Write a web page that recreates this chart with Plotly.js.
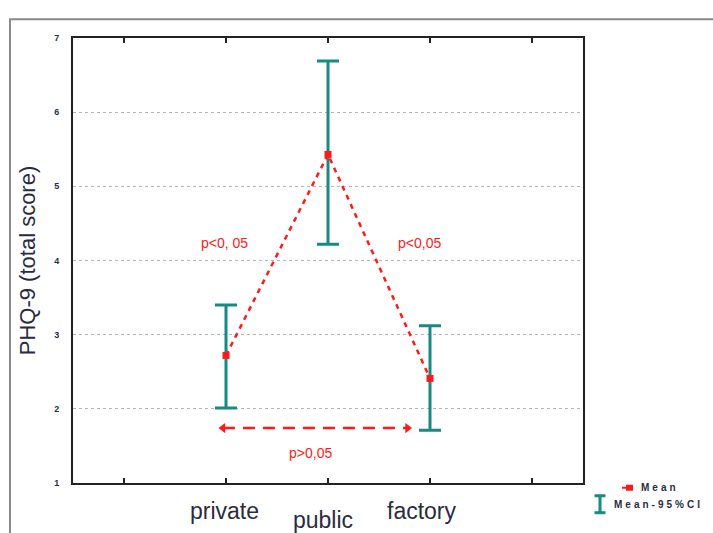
<!DOCTYPE html>
<html>
<head>
<meta charset="utf-8">
<script src="https://cdn.plot.ly/plotly-3.0.1.min.js"></script>
<style>
  html, body { margin: 0; padding: 0; background: #fff; }
  #chart { width: 713px; height: 533px; }
  .legtext { letter-spacing: 3px; }
</style>
</head>
<body>
<div id="chart"></div>
<script>
// ---- data ----
const categories = ["private", "public", "factory"];
const catPos = [1, 2, 3];
const meanValues = [2.72, 5.43, 2.41];
const ciUpper = [3.40, 6.69, 3.12];
const ciLower = [2.01, 4.22, 1.71];
const yTicks = [1, 2, 3, 4, 5, 6, 7];
// p-value comparisons
const pLabels = ["p<0, 05", "p<0,05", "p>0,05"];
const pLabelX = [0.99, 2.9, 1.83];
const pLabelY = [4.23, 4.23, 1.40];
const arrowX = [0.97, 2.78];
const arrowY = [1.74, 1.74];
const legendLabels = ["Mean", "Mean-95%CI"];

const red = "#ff1a1a";
const teal = "#178a84";

const traceCI = {
  x: catPos, y: meanValues, type: "scatter", mode: "markers",
  marker: { color: "rgba(0,0,0,0)", size: 1 },
  error_y: {
    type: "data", symmetric: false,
    array: ciUpper.map((u, i) => u - meanValues[i]),
    arrayminus: meanValues.map((m, i) => m - ciLower[i]),
    color: teal, thickness: 3, width: 11
  },
  hoverinfo: "skip", showlegend: false
};

const traceMean = {
  x: catPos, y: meanValues, type: "scatter", mode: "lines+markers",
  line: { color: red, width: 2.5, dash: "5px,5px" },
  marker: { color: red, size: 7, symbol: "square" },
  showlegend: false
};

const traceArrow = {
  x: arrowX, y: arrowY, type: "scatter", mode: "lines+markers",
  line: { color: red, width: 2.5, dash: "12px,8px" },
  marker: { color: red, size: 9, symbol: ["triangle-left", "triangle-right"] },
  showlegend: false
};

const annotations = [];
categories.forEach((c, i) => {
  const ys = [-0.064, -0.084, -0.064];
  const xs = [-2, -5, -8];
  annotations.push({
    x: catPos[i], xref: "x", y: ys[i], yref: "paper",
    text: c, showarrow: false, xshift: xs[i],
    font: { family: "Liberation Sans, Arial, sans-serif", size: 23, color: "#2b2b3f" },
    xanchor: "center", yanchor: "middle"
  });
});
pLabels.forEach((t, i) => {
  annotations.push({
    x: pLabelX[i], y: pLabelY[i], xref: "x", yref: "y",
    text: t, showarrow: false,
    font: { family: "Liberation Sans Narrow, Liberation Sans, Arial", size: 14, color: red },
    xanchor: "center", yanchor: "middle"
  });
});
const px = v => (v - 73) / 510;
const py = v => (483.25 - v) / 445.5;

// legend text
annotations.push({
  x: px(645), y: py(488), xref: "paper", yref: "paper",
  text: legendLabels[0], showarrow: false, xanchor: "left", yanchor: "middle",
  font: { family: "Liberation Sans, Arial", size: 10, color: "#2b2b3f", weight: "bold" }
});
annotations.push({
  x: px(627), y: py(505), xref: "paper", yref: "paper",
  text: legendLabels[1], showarrow: false, xanchor: "left", yanchor: "middle",
  font: { family: "Liberation Sans, Arial", size: 10, color: "#2b2b3f", weight: "bold" }
});

const shapes = [
  // outer gray frame
  { type: "path", xref: "paper", yref: "paper",
    path: `M ${px(10)} ${py(545)} L ${px(10)} ${py(19)} L ${px(720)} ${py(19)}`,
    line: { color: "#8a8a8a", width: 2 } },
  // legend: mean marker
  { type: "rect", xref: "paper", yref: "paper",
    x0: px(626), x1: px(633), y0: py(485), y1: py(491),
    fillcolor: red, line: { width: 0 } },
  { type: "line", xref: "paper", yref: "paper",
    x0: px(622), x1: px(627), y0: py(488), y1: py(488),
    line: { color: red, width: 2 } },
  // legend: CI symbol
  { type: "line", xref: "paper", yref: "paper",
    x0: px(600), x1: px(600), y0: py(496), y1: py(513),
    line: { color: teal, width: 3 } },
  { type: "line", xref: "paper", yref: "paper",
    x0: px(594.5), x1: px(605.5), y0: py(496), y1: py(496),
    line: { color: teal, width: 3 } },
  { type: "line", xref: "paper", yref: "paper",
    x0: px(594.5), x1: px(605.5), y0: py(513), y1: py(513),
    line: { color: teal, width: 3 } }
];

const layout = {
  width: 713, height: 533,
  margin: { l: 73, r: 130, t: 38, b: 50, pad: 0 },
  paper_bgcolor: "#ffffff", plot_bgcolor: "#ffffff",
  showlegend: false,
  xaxis: {
    range: [-0.5, 4.5], tickvals: [0, 1, 2, 3, 4], showticklabels: false,
    ticks: "inside", ticklen: 5, tickwidth: 1.5, tickcolor: "#222",
    showline: true, linewidth: 2, linecolor: "#222", mirror: "ticks",
    showgrid: false, zeroline: false
  },
  yaxis: {
    range: [1, 7], tickvals: yTicks, ticktext: yTicks.map(String),
    ticks: "", showline: true, linewidth: 2, linecolor: "#222", mirror: true,
    showgrid: true, gridcolor: "#b4b4b4", griddash: "dot", gridwidth: 1,
    zeroline: false, ticklabelstandoff: 10,
    tickfont: { family: "Liberation Sans, Arial", size: 9, color: "#2b2b4a", weight: "bold" },
    title: { text: "PHQ-9 (total score)", standoff: 12,
      font: { family: "Liberation Sans, Arial", size: 22, color: "#2b2b3f" } }
  },
  annotations: annotations,
  shapes: shapes
};

Plotly.newPlot("chart", [traceCI, traceMean, traceArrow], layout, { displayModeBar: false, staticPlot: true })
  .then(() => {
    document.querySelectorAll(".annotation-text").forEach(el => {
      if (legendLabels.includes(el.textContent)) el.classList.add("legtext");
    });
  });
</script>
</body>
</html>
